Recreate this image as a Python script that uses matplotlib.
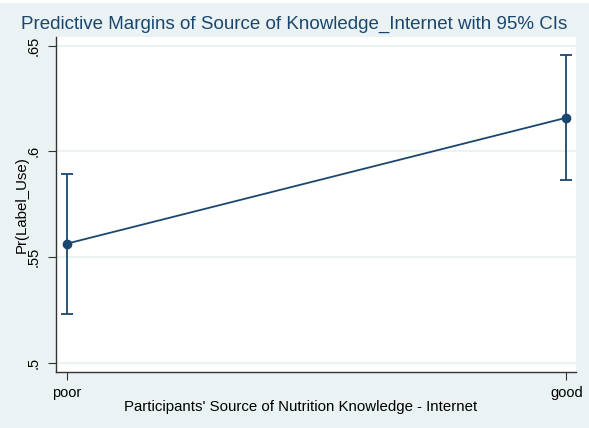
import matplotlib
matplotlib.use("Agg")
import matplotlib.pyplot as plt
from matplotlib.patches import Rectangle

# Predictive margins and 95% confidence limits
categories = ["poor", "good"]
margins = [0.5563, 0.6159]
ci_lower = [0.5232, 0.5864]
ci_upper = [0.5893, 0.6457]
yticks = [0.5, 0.55, 0.6, 0.65]
ytick_labels = [".5", ".55", ".6", ".65"]

plt.rcParams['font.family'] = ['Liberation Sans', 'DejaVu Sans']

W, H = 589, 428
bg = '#eaf2f3'
navy = '#1a476f'

fig = plt.figure(figsize=(W / 100, H / 100), dpi=100, facecolor='white')
# graph region background, leaving a thin white strip along the top edge
fig.patches.append(Rectangle((0, 0), 1, 1 - 3 / H, transform=fig.transFigure,
                             facecolor=bg, edgecolor='none', zorder=-10))

ax = fig.add_axes([56 / W, 1 - 372 / H, (576 - 56) / W, (372 - 37) / H])
ax.set_facecolor('white')

x = list(range(len(categories)))
err_low = [m - l for m, l in zip(margins, ci_lower)]
err_high = [u - m for m, u in zip(margins, ci_upper)]

ax.errorbar(x, margins, yerr=[err_low, err_high], fmt='none',
            ecolor=navy, elinewidth=1.3, capsize=4, capthick=1.3, zorder=3)
ax.plot(x, margins, color=navy, linewidth=1.3, marker='o', markersize=6,
        markerfacecolor=navy, markeredgecolor=navy, zorder=4)

ax.set_xlim(-0.0214, 1.0194)
ax.set_ylim(0.4956, 0.6541)

ax.set_yticks(yticks)
ax.set_yticklabels(ytick_labels, rotation=90, va='center', fontsize=10.5)
ax.set_xticks(x)
ax.set_xticklabels(categories, fontsize=10.5)

ax.grid(axis='y', color=bg, linewidth=1.5)
ax.set_axisbelow(True)

for side in ['top', 'right']:
    ax.spines[side].set_visible(False)
for side in ['left', 'bottom']:
    ax.spines[side].set_color('#333333')
    ax.spines[side].set_linewidth(1.0)

ax.tick_params(axis='both', length=6, width=0.8, color='#333333')
ax.tick_params(axis='x', pad=4)
ax.tick_params(axis='y', pad=5)

ax.set_ylabel("Pr(Label_Use)", fontsize=10.8)
ax.yaxis.set_label_coords((29 - 56) / 520, 0.5)
ax.set_xlabel("Participants' Source of Nutrition Knowledge - Internet", fontsize=10.8)
ax.xaxis.set_label_coords((301 - 56) / 520, (372 - 400) / 335)

fig.text(294 / W, 1 - 24 / H, "Predictive Margins of Source of Knowledge_Internet with 95% CIs",
         ha='center', va='center', fontsize=13.5, color=navy)

fig.savefig("out.png", dpi=100, facecolor='white')
